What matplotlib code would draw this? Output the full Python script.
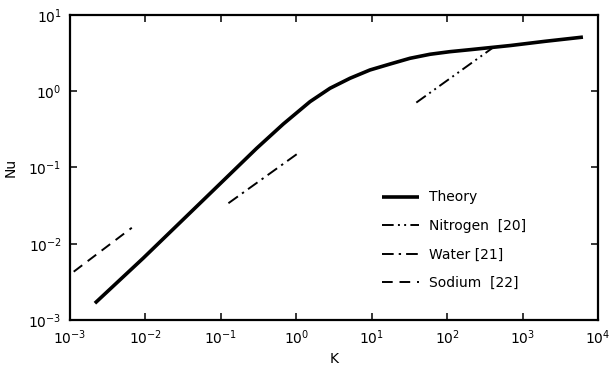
import matplotlib
matplotlib.use("Agg")
import matplotlib.pyplot as plt
from matplotlib.ticker import LogFormatterMathtext, NullLocator

# Theory curve
theory_K = [2.14e-3, 9.33e-3, 0.0617, 0.2985, 0.673, 1.52, 2.80, 5.15, 9.48,
            17.5, 32.1, 59.3, 109, 201, 692, 2000, 6310]
theory_Nu = [1.66e-3, 6.46e-3, 0.0394, 0.1786, 0.372, 0.730, 1.094, 1.479, 1.901,
             2.275, 2.704, 3.055, 3.304, 3.508, 3.98, 4.52, 5.13]

# Experimental correlations
nitrogen_K = [39, 400]
nitrogen_Nu = [0.71, 3.7]
water_K = [0.126, 1.02]
water_Nu = [0.034, 0.15]
sodium_K = [1.12e-3, 6.6e-3]
sodium_Nu = [4.3e-3, 1.62e-2]

x_ticks = [1e-3, 1e-2, 1e-1, 1e0, 1e1, 1e2, 1e3, 1e4]
y_ticks = [1e-3, 1e-2, 1e-1, 1e0, 1e1]

fig = plt.figure(figsize=(6.15, 3.73), dpi=100)
ax = fig.add_axes([0.1138, 0.1421, 0.8586, 0.8177])

ax.plot(theory_K, theory_Nu, color="black", lw=2.6, solid_capstyle="butt",
        solid_joinstyle="round", label="Theory")
ax.plot(nitrogen_K, nitrogen_Nu, color="black", lw=1.4,
        dashes=(6, 2.2, 1, 2.2, 1, 2.2), label="Nitrogen  [20]")
ax.plot(water_K, water_Nu, color="black", lw=1.4,
        dashes=(6, 2.6, 1.2, 2.6), label="Water [21]")
ax.plot(sodium_K, sodium_Nu, color="black", lw=1.4,
        dashes=(5.5, 3.5), label="Sodium  [22]")

ax.set_xscale("log")
ax.set_yscale("log")
ax.set_xlim(1e-3, 1e4)
ax.set_ylim(1e-3, 1e1)

ax.set_xticks(x_ticks)
ax.set_yticks(y_ticks)
ax.xaxis.set_minor_locator(NullLocator())
ax.yaxis.set_minor_locator(NullLocator())
ax.xaxis.set_major_formatter(LogFormatterMathtext())
ax.yaxis.set_major_formatter(LogFormatterMathtext())

ax.tick_params(which="major", direction="in", top=True, right=True,
               length=5, width=1.1, labelsize=10, pad=6)
for s in ax.spines.values():
    s.set_linewidth(1.6)

ax.set_xlabel("K", fontsize=10, labelpad=4)
ax.set_ylabel("Nu", fontsize=10, labelpad=8)

ax.legend(loc="upper left", bbox_to_anchor=(0.59, 0.425), frameon=False,
          fontsize=10, handlelength=2.7, handletextpad=0.7,
          labelspacing=1.05, borderpad=0, borderaxespad=0)

fig.savefig("out.png", dpi=100)
